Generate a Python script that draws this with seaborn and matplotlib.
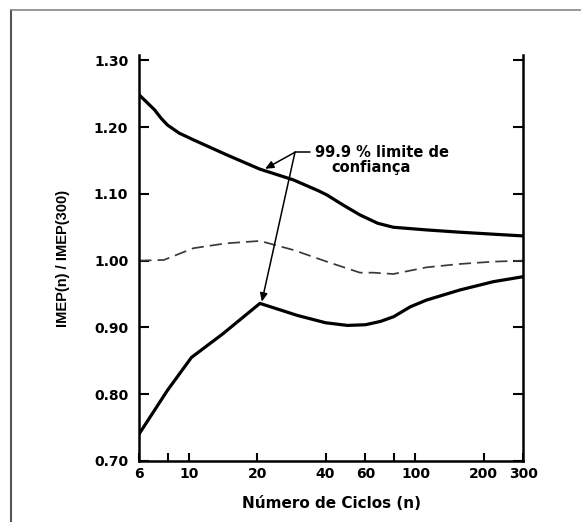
import matplotlib
matplotlib.use("Agg")
import matplotlib.pyplot as plt
from matplotlib.lines import Line2D
from matplotlib.ticker import FixedLocator, NullFormatter
import seaborn as sns

# curves
upperN = [6, 7, 7.5, 8, 9, 10.4, 14.6, 20.5, 28.8, 37, 40.5, 48, 56.8, 68, 79.8, 112, 157, 221, 300]
upperVal = [1.248, 1.226, 1.213, 1.203, 1.191, 1.181, 1.1585, 1.137, 1.121, 1.105, 1.0985, 1.083,
            1.0685, 1.056, 1.050, 1.046, 1.0426, 1.0396, 1.037]

meanN = [6, 7.7, 10.4, 14.6, 20.5, 28.8, 40.5, 56.8, 65, 79.8, 112, 157, 221, 300]
meanVal = [1.000, 1.001, 1.0186, 1.026, 1.0295, 1.016, 0.9985, 0.982, 0.982, 0.980,
           0.990, 0.995, 0.9985, 1.000]

lowerN = [6, 8, 10.2, 14, 20.5, 30, 40, 50, 60, 70, 80, 95, 112, 157, 221, 300]
lowerVal = [0.741, 0.806, 0.855, 0.890, 0.936, 0.918, 0.907, 0.903, 0.904, 0.909,
            0.916, 0.931, 0.941, 0.956, 0.9685, 0.976]

xTicks = [6, 10, 20, 40, 60, 100, 200, 300]
xMinorTicks = [8, 80]
yTicks = [0.70, 0.80, 0.90, 1.00, 1.10, 1.20, 1.30]

sns.set_style("ticks")
plt.rcParams["font.family"] = ["DejaVu Sans"]
plt.rcParams.update({
    "xtick.direction": "in", "ytick.direction": "in",
    "xtick.color": "black", "ytick.color": "black",
    "text.color": "black", "axes.labelcolor": "black",
})

fig = plt.figure(figsize=(5.81, 5.22), dpi=100)
ax = fig.add_axes([0.2398, 0.1169, 0.6609, 0.7778])

sns.lineplot(x=upperN, y=upperVal, ax=ax, color="black", lw=2.3)
sns.lineplot(x=meanN, y=meanVal, ax=ax, color="#3a3a3a", lw=1.25, linestyle=(0, (7, 3.5)))
sns.lineplot(x=lowerN, y=lowerVal, ax=ax, color="black", lw=2.3)

ax.set_xscale("log")
ax.set_xlim(6, 300)
ax.set_ylim(0.70, 1.308)

ax.xaxis.set_major_locator(FixedLocator(xTicks))
ax.set_xticklabels([str(t) for t in xTicks])
ax.xaxis.set_minor_locator(FixedLocator(xMinorTicks))
ax.xaxis.set_minor_formatter(NullFormatter())
ax.set_yticks(yTicks)
ax.set_yticklabels([f"{t:.2f}" for t in yTicks])

for lbl in ax.get_xticklabels() + ax.get_yticklabels():
    lbl.set_fontweight("bold")
    lbl.set_fontsize(10)

ax.tick_params(axis="both", which="both", direction="in", width=1.5, color="black")
ax.tick_params(axis="x", which="both", length=6, pad=4, bottom=True, top=False)
ax.tick_params(axis="y", which="both", length=7, pad=8, left=True, right=True, labelright=False)

ax.spines["top"].set_visible(False)
for side in ["left", "right", "bottom"]:
    ax.spines[side].set_linewidth(1.8)
    ax.spines[side].set_color("black")

ax.set_xlabel("Número de Ciclos (n)", fontsize=11, fontweight="bold", labelpad=11)
ax.set_ylabel("IMEP(n) / IMEP(300)", fontsize=10.5, fontweight="bold",
              family="Liberation Sans", labelpad=17)

# annotation: two arrows from a common vertex and a short lead to the text
vertex = (29.3, 1.1623)
arrowStyle = dict(arrowstyle="-|>,head_length=0.5,head_width=0.22", color="black",
                  lw=1.1, shrinkA=0, shrinkB=0)
ax.annotate("", xy=(21.6, 1.1375), xytext=vertex, arrowprops=arrowStyle)
ax.annotate("", xy=(20.9, 0.9385), xytext=vertex, arrowprops=arrowStyle)
ax.plot([29.3, 34.2], [1.1623, 1.1623], color="black", lw=1.1)
ax.text(35.9, 1.1616, "99.9 % limite de", fontsize=10.5, fontweight="bold", va="center", ha="left")
ax.text(42.6, 1.139, "confiança", fontsize=10.5, fontweight="bold", va="center", ha="left")

# outer frame (left and top edges only)
fig.add_artist(Line2D([0.0181, 0.0181], [0.9818, 0.0], transform=fig.transFigure,
                      color="#555555", lw=1.5))
fig.add_artist(Line2D([0.0181, 1.0], [0.9818, 0.9818], transform=fig.transFigure,
                      color="#888888", lw=1.2))

fig.savefig("out.png", dpi=100)
plt.close(fig)
